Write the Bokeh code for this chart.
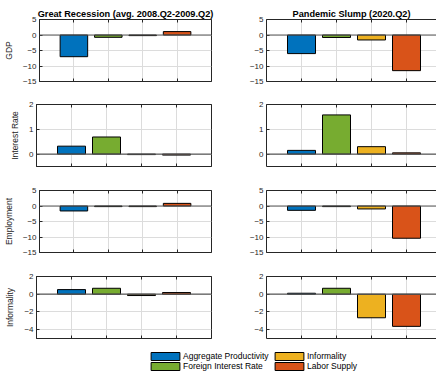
from bokeh.plotting import figure
from bokeh.models import Range1d, FixedTicker, LinearAxis, Span, Legend, LegendItem, ColumnDataSource
from bokeh.layouts import column, row
from bokeh.embed import file_html
from bokeh.resources import INLINE

# ---------------- data ----------------
shocks = ["Aggregate Productivity", "Foreign Interest Rate", "Informality", "Labor Supply"]
colors = ["#0072BD", "#77AC30", "#EDB120", "#D95319"]
positions = [1, 2, 3, 4]
variables = ["GDP", "Interest Rate", "Employment", "Informality"]
periods = ["Great Recession (avg. 2008.Q2-2009.Q2)", "Pandemic Slump (2020.Q2)"]

gr_gdp = [-7.0, -0.75, -0.2, 1.1]
ps_gdp = [-6.0, -0.8, -1.6, -11.5]
gr_rate = [0.32, 0.69, -0.02, -0.04]
ps_rate = [0.15, 1.58, 0.30, 0.05]
gr_emp = [-1.6, -0.2, -0.2, 0.85]
ps_emp = [-1.4, -0.2, -0.95, -10.4]
gr_inf = [0.52, 0.67, -0.15, 0.19]
ps_inf = [0.11, 0.67, -2.66, -3.63]

values = [[gr_gdp, ps_gdp], [gr_rate, ps_rate], [gr_emp, ps_emp], [gr_inf, ps_inf]]
ylims = [(-15, 5), (-0.5, 2), (-15, 5), (-5, 2)]
yticks = [[-15, -10, -5, 0, 5], [0, 1, 2], [-15, -10, -5, 0, 5], [-4, -2, 0, 2]]

# ---------------- style ----------------
FONT = "Liberation Sans"
AX = "#262626"
GRID = "#dcdcdc"
FRAME_H = 62
FRAME_W = 175
tops = [19, 11, 11, 11]
bottoms = [12, 13, 13, 2]
LEFT_BL, LEFT_BR = 36, 25
RIGHT_BL = 30
LEFT_W = LEFT_BL + FRAME_W + LEFT_BR
RIGHT_W = 200


def style_x_axis(ax):
    # category positions as (label-less) inward tick marks
    ax.ticker = FixedTicker(ticks=[], minor_ticks=positions)
    ax.major_tick_out = 0
    ax.major_tick_in = 0
    ax.minor_tick_out = 0
    ax.minor_tick_in = 3
    ax.minor_tick_line_color = AX
    ax.axis_line_color = AX
    ax.major_label_standoff = 0


def panel(r, c):
    vals = values[r][c]
    ylo, yhi = ylims[r]
    if c == 0:
        xr = Range1d(0, 5)
        w = LEFT_W
        bl, br = LEFT_BL, LEFT_BR
    else:
        xr = Range1d(0, 5 * (RIGHT_W - RIGHT_BL) / FRAME_W)
        w = RIGHT_W
        bl, br = RIGHT_BL, 0
    h = tops[r] + FRAME_H + bottoms[r]
    p = figure(width=w, height=h, x_range=xr, y_range=Range1d(ylo, yhi),
               output_backend="svg", toolbar_location=None, tools="",
               min_border_left=bl, min_border_right=br,
               min_border_top=tops[r], min_border_bottom=bottoms[r],
               background_fill_color="white", border_fill_color="white")
    p.outline_line_color = AX if c == 0 else None
    p.outline_line_width = 1

    src = ColumnDataSource(dict(x=positions, top=vals, color=colors))
    p.vbar(x="x", top="top", bottom=0, width=0.8, source=src,
           fill_color="color", line_color="black", line_width=1)
    p.add_layout(Span(location=0, dimension="width", line_color="#5a5a5a", line_width=1.2))

    # grid
    p.xgrid.ticker = FixedTicker(ticks=positions)
    p.ygrid.ticker = FixedTicker(ticks=yticks[r])
    p.grid.grid_line_color = GRID
    p.grid.grid_line_width = 1

    style_x_axis(p.xaxis[0])
    top_ax = LinearAxis()
    style_x_axis(top_ax)
    p.add_layout(top_ax, "above")

    ya = p.yaxis[0]
    ya.ticker = FixedTicker(ticks=yticks[r])
    ya.major_tick_out = 0
    ya.major_tick_in = 3
    ya.minor_tick_out = 0
    ya.minor_tick_in = 0
    ya.axis_line_color = AX
    ya.major_tick_line_color = AX
    ya.major_label_text_font = FONT
    ya.major_label_text_font_size = "8px"
    ya.major_label_text_color = AX
    ya.major_label_standoff = 3
    if c == 0:
        ya.axis_label = variables[r]
        ya.axis_label_text_font = FONT
        ya.axis_label_text_font_size = "8.5px"
        ya.axis_label_text_font_style = "normal"
        ya.axis_label_text_color = AX
        ya.axis_label_standoff = 6

    if r == 0:
        p.title.text = periods[c]
        p.title.text_font = FONT
        p.title.text_font_size = "9.2px"
        p.title.text_font_style = "bold"
        p.title.text_color = "black"
        p.title.align = "center"
        p.title.standoff = 1
        p.title.offset = 0
    return p


rows = []
for r in range(4):
    rows.append(row(panel(r, 0), panel(r, 1)))

# legend figure: swatch renderers use the GDP values but lie outside the visible range
leg = figure(width=LEFT_W + RIGHT_W, height=33, output_backend="svg", toolbar_location=None,
             tools="", x_axis_type=None, y_axis_type=None,
             x_range=Range1d(100, 101), y_range=Range1d(100, 101),
             min_border_left=0, min_border_right=0, min_border_top=0, min_border_bottom=0)
leg.outline_line_color = None
leg.grid.visible = False
items = []
for i, (name, col) in enumerate(zip(shocks, colors)):
    rr = leg.vbar(x=[positions[i]], top=[gr_gdp[i]], width=0.8, fill_color=col,
                  line_color="black", line_width=1)
    items.append(LegendItem(label=name, renderers=[rr]))

for k, xloc in enumerate([147, 271]):
    lg = Legend(items=items[2 * k:2 * k + 2], location=(xloc, 2), orientation="vertical",
                glyph_width=36, glyph_height=10, label_height=9, spacing=-1,
                padding=0, margin=0, label_standoff=-1,
                label_text_font=FONT, label_text_font_size="8.5px", label_text_color="black",
                border_line_color=None, background_fill_alpha=0)
    leg.add_layout(lg)

layout = column(*rows, leg)
open("out.html", "w").write(file_html(layout, INLINE))
